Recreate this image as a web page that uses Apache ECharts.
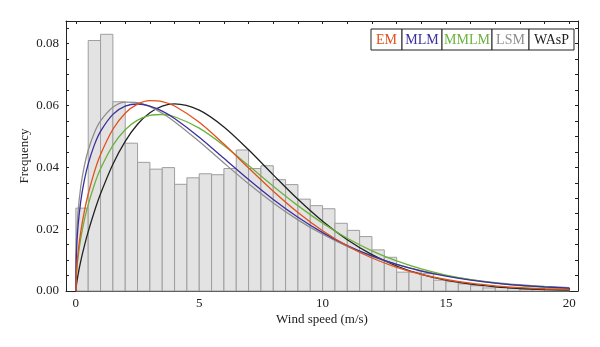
<!DOCTYPE html>
<html><head><meta charset="utf-8">
<script src="https://cdn.jsdelivr.net/npm/echarts@6/dist/echarts.min.js"></script>
<style>html,body{margin:0;padding:0;background:#fff}#c{width:600px;height:347px}</style>
</head><body><div id="c"></div>
<script>
// ---- data ----
const binEdges = [0,0.5,1,1.5,2,2.5,3,3.5,4,4.5,5,5.5,6,6.5,7,7.5,8,8.5,9,9.5,10,10.5,11,11.5,12,12.5,13,13.5,14,14.5,15,15.5,16,16.5,17,17.5,18,18.5,19,19.5,20];
const binFreq = [0.0268,0.0810,0.0830,0.0612,0.0478,0.0416,0.0394,0.0399,0.0345,0.0366,0.0379,0.0376,0.0396,0.0456,0.0396,0.0405,0.0360,0.0344,0.0297,0.0276,0.0266,0.0219,0.0196,0.0176,0.0133,0.0109,0.0061,0.0061,0.0057,0.0035,0.0030,0.0023,0.0017,0.0010,0.0012,0.0008,0.0006,0.0005,0.0004,0.0003];
const curveX = [0,0.02,0.08,0.2,0.35,0.5,0.75,1,1.5,2,2.5,3,3.5,4,5,6,7,8,9,10,11,12,13,14,15,16,17,18,19,20];
const emY   = [0,0.00545,0.01167,0.01926,0.0260,0.03137,0.0385,0.04413,0.05231,0.05749,0.06041,0.06154,0.06125,0.05982,0.05458,0.0475,0.03977,0.03223,0.02536,0.01946,0.01456,0.01067,0.00766,0.00538,0.00372,0.00252,0.00169,0.00111,0.00072,0.00045];
const mlmY  = [0,0.01169,0.02031,0.02913,0.03607,0.04112,0.04725,0.05162,0.05712,0.05976,0.06047,0.05981,0.05817,0.0558,0.04975,0.0429,0.03602,0.02958,0.02383,0.01888,0.01472,0.01133,0.0086,0.00646,0.00479,0.00352,0.00256,0.00184,0.00131,0.00093];
const mmlmY = [0,0.00485,0.01038,0.01713,0.02316,0.02795,0.03438,0.0395,0.0471,0.05214,0.05523,0.05678,0.05707,0.05634,0.05265,0.04704,0.04055,0.0339,0.0276,0.02194,0.01705,0.013,0.00973,0.00714,0.00516,0.00367,0.00257,0.00177,0.00121,0.00081];
const lsmY  = [0,0.01529,0.02475,0.03388,0.04072,0.04553,0.05115,0.05497,0.05938,0.06104,0.06094,0.05962,0.05747,0.05473,0.0483,0.04139,0.03466,0.02848,0.02301,0.01834,0.01442,0.01121,0.00862,0.00656,0.00495,0.0037,0.00274,0.00202,0.00147,0.00107];
const waspY = [0,0.00174,0.00491,0.00974,0.01475,0.01918,0.0257,0.03143,0.041,0.0484,0.0539,0.05763,0.05979,0.06052,0.05848,0.05305,0.04566,0.03756,0.02965,0.02255,0.01655,0.01175,0.00809,0.0054,0.0035,0.00221,0.00135,0.00081,0.00047,0.00027];
const seriesNames = ['EM','MLM','MMLM','LSM','WAsP'];
const xTickValues = [0,1,2,3,4,5,6,7,8,9,10,11,12,13,14,15,16,17,18,19,20];
const xLabelValues = [0,5,10,15,20];
const yTickValues = [0,0.005,0.01,0.015,0.02,0.025,0.03,0.035,0.04,0.045,0.05,0.055,0.06,0.065,0.07,0.075,0.08,0.085];
const yLabelValues = [0,0.02,0.04,0.06,0.08];

// ---- chart ----
const FONT = '"Liberation Serif", "DejaVu Serif", serif';
const INK = '#222';
const colors = ['#e2501c','#3b2f9e','#6cb23e','#8e8e8e','#222222'];
const curves = [emY, mlmY, mmlmY, lsmY, waspY];
const chart = echarts.init(document.getElementById('c'), null, {renderer:'canvas'});

const XMIN = -0.4, XMAX = 20.35, YMAX = 0.0873;
function xAx(pos, labels){
  return {type:'value', min:XMIN, max:XMAX, position:pos,
    axisLine:{show:true, onZero:false, lineStyle:{color:INK, width:1}},
    axisTick:{show:true, inside:true, length:3, customValues:xTickValues, lineStyle:{color:INK}},
    axisLabel:labels ? {customValues:xLabelValues, margin:6, fontFamily:FONT, fontSize:13, color:INK} : {show:false},
    splitLine:{show:false},
    name: labels ? 'Wind speed (m/s)' : '', nameLocation:'middle', nameGap:22, nameMoveOverlap:false,
    nameTextStyle:{fontFamily:FONT, fontSize:13, color:INK}};
}
function yAx(pos, labels){
  return {type:'value', min:0, max:YMAX, position:pos,
    axisLine:{show:true, onZero:false, lineStyle:{color:INK, width:1}},
    axisTick:{show:true, inside:true, length:3, customValues:yTickValues, lineStyle:{color:INK}},
    axisLabel:labels ? {customValues:yLabelValues, margin:7, fontFamily:FONT, fontSize:13, color:INK,
      formatter:v=>Number(v).toFixed(2)} : {show:false},
    splitLine:{show:false},
    name: labels ? 'Frequency' : '', nameLocation:'middle', nameGap:35, nameMoveOverlap:false,
    nameTextStyle:{fontFamily:FONT, fontSize:13, color:INK}};
}

const histData = binFreq.map((f,i)=>[binEdges[i], binEdges[i+1], f]);
const series = [{
  type:'custom', name:'hist', xAxisIndex:0, yAxisIndex:0, silent:true, z:1,
  data: histData, encode:{x:[0,1], y:2},
  renderItem:(params, api)=>{
    const p0 = api.coord([api.value(0), api.value(2)]);
    const p1 = api.coord([api.value(1), 0]);
    return {type:'rect', shape:{x:p0[0], y:p0[1], width:p1[0]-p0[0], height:p1[1]-p0[1]},
      style:{fill:'#e3e3e3', stroke:'#9e9e9e', lineWidth:1}};
  }
}];
seriesNames.forEach((n,i)=>{
  series.push({type:'line', name:n, xAxisIndex:0, yAxisIndex:0, z:3+(4-i),
    data: curveX.map((x,j)=>[x, curves[i][j]]),
    showSymbol:false, smooth:0.3,
    lineStyle:{color:colors[i], width:1.3}, itemStyle:{color:colors[i]}});
});

// legend boxes
const cells = [[371,402],[402,442],[442,492],[492,529],[529,574]];
const legendEls = [];
seriesNames.forEach((n,i)=>{
  const [x0,x1] = cells[i];
  legendEls.push({type:'rect', shape:{x:x0, y:29, width:x1-x0, height:21}, style:{fill:'#fff', stroke:INK, lineWidth:1}, z:10});
  legendEls.push({type:'text', x:(x0+x1)/2, y:40, style:{text:n, align:'center', verticalAlign:'middle', fontFamily:FONT, fontSize:14, fill:colors[i]}, z:11});
});

chart.setOption({
  animation:false,
  backgroundColor:'#fff',
  grid:{left:66, right:22, top:21, bottom:56, containLabel:false},
  xAxis:[xAx('bottom', true), xAx('top', false)],
  yAxis:[yAx('left', true), yAx('right', false)],
  series: series,
  graphic: legendEls
});
</script></body></html>
